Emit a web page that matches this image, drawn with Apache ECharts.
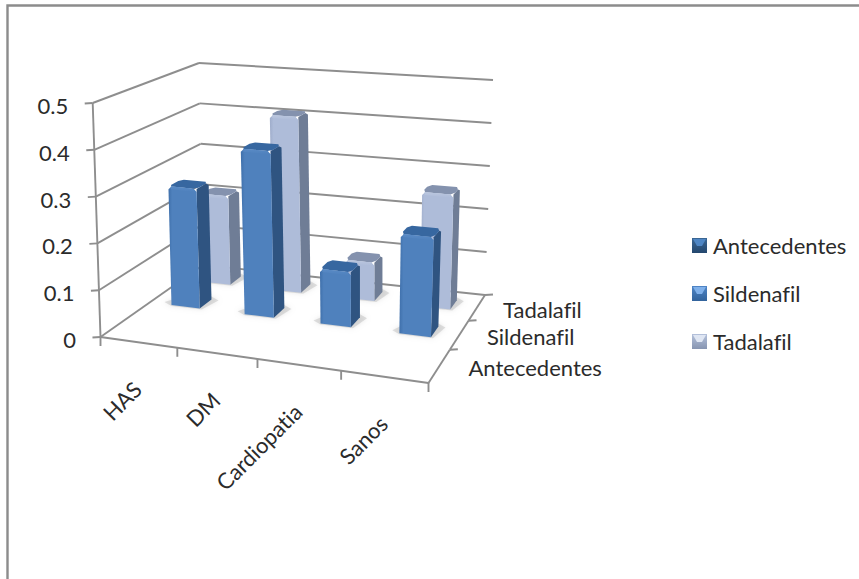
<!DOCTYPE html>
<html>
<head>
<meta charset="utf-8">
<style>
html,body{margin:0;padding:0;background:#fff}
#chart{width:859px;height:579px}
#chart text{font-variant-ligatures:none}
</style>
<script src="https://cdn.jsdelivr.net/npm/echarts@6/dist/echarts.min.js"></script>
</head>
<body>
<div id="chart"></div>
<script>
// Chart data
const categories = ['HAS', 'DM', 'Cardiopatia', 'Sanos'];
const seriesNames = ['Antecedentes', 'Sildenafil', 'Tadalafil'];
const antecedentes = [null, null, null, null];
const sildenafil = [0.27, 0.37, 0.12, 0.215];
const tadalafil = [0.21, 0.41, 0.088, 0.26];
const yTicks = [0, 0.1, 0.2, 0.3, 0.4, 0.5];

// Box corners in the page: floor and top plane, front-left, front-right, back-right, back-left
const FLOOR = [[100.5, 337], [428.5, 383], [485, 295], [203, 265]];
const TOP = [[92.7, 103], [438, 133], [493, 80], [199, 63]];
const FONT = 'Lato';
const FONT_SIZE = 22;
const TEXT = '#2b2b2b';
const LINE = '#8e8e8e';

// Unit square to quadrilateral perspective map
function quadMap(q) {
  const [[x0, y0], [x1, y1], [x2, y2], [x3, y3]] = q;
  const dx1 = x1 - x2, dx2 = x3 - x2, sx = x0 - x1 + x2 - x3;
  const dy1 = y1 - y2, dy2 = y3 - y2, sy = y0 - y1 + y2 - y3;
  const den = dx1 * dy2 - dx2 * dy1;
  const g = (sx * dy2 - dx2 * sy) / den, h = (dx1 * sy - sx * dy1) / den;
  const a = x1 - x0 + g * x1, b = x3 - x0 + h * x3;
  const d = y1 - y0 + g * y1, e = y3 - y0 + h * y3;
  return (u, v) => {
    const w = g * u + h * v + 1;
    return [(a * u + b * v + x0) / w, (d * u + e * v + y0) / w];
  };
}
const floorMap = quadMap(FLOOR);
const topMap = quadMap(TOP);
// u along the categories, h up the value axis, v into the depth; all 0..1
function project(u, h, v) {
  const w = u + 0.04 * u * (1 - u); // eases the foreshortening along the category axis
  const p = floorMap(w, v), q = topMap(w, v);
  return [p[0] + (q[0] - p[0]) * h, p[1] + (q[1] - p[1]) * h];
}
// Axis scales of the hidden grid, read back as unit coordinates
function unit(api, cat, val) {
  const c = api.coord([cat, val]);
  const W = api.getWidth(), H = api.getHeight();
  return { u: c[0] / W, h: 1 - c[1] / H, band: api.size([1, 0])[0] / W };
}
const poly = (points, style, z2) => ({ type: 'polygon', shape: { points }, style, z2: z2 || 0 });
const seg = (a, b, width) => ({
  type: 'line', shape: { x1: a[0], y1: a[1], x2: b[0], y2: b[1] },
  style: { stroke: LINE, lineWidth: width || 1.9 }
});
const label = (x, y, text, extra) => ({
  type: 'text', x, y, rotation: extra && extra.rotation || 0,
  style: Object.assign({ text, fontFamily: FONT, fontSize: FONT_SIZE, fill: TEXT }, extra && extra.style)
});
const vgrad = (c0, c1) => new echarts.graphic.LinearGradient(0, 0, 0, 1, [{ offset: 0, color: c0 }, { offset: 1, color: c1 }]);
const hgrad = (c0, c1) => new echarts.graphic.LinearGradient(0, 0, 1, 0, [{ offset: 0, color: c0 }, { offset: 0.12, color: c1 }, { offset: 1, color: c1 }]);

// Softens the listed corners of a polygon by cutting them back along both edges
function chamfer(points, corners, r) {
  const out = [];
  points.forEach((p, i) => {
    if (!corners.includes(i)) { out.push(p); return; }
    const prev = points[(i + points.length - 1) % points.length];
    const next = points[(i + 1) % points.length];
    const toward = q => {
      const dx = q[0] - p[0], dy = q[1] - p[1], l = Math.hypot(dx, dy) || 1;
      const t = Math.min(r, l / 2) / l;
      return [p[0] + dx * t, p[1] + dy * t];
    };
    out.push(toward(prev), toward(next));
  });
  return out;
}

const PALETTE = {
  Sildenafil: { face: '#4f81bd', rim: '#3f70ab', side: '#2f5481', top: '#3767a0', lip: '#5a8bc6' },
  Tadalafil: { face: '#aebcd9', rim: '#9fadcb', side: '#6f7d96', top: '#8492ae', lip: '#bbc7df' }
};

// One bevelled 3D column standing on the floor
function barItem(name, row) {
  return function (params, api) {
    const cat = api.value(0), val = api.value(1);
    const { u, h, band } = unit(api, cat, val);
    const hw = band * 0.195, v = (row + 0.5) / 3, hd = 0.062;
    const pal = PALETTE[name];
    const u0 = u - hw, u1 = u + hw, v0 = v - hd, v1 = v + hd;
    const fb0 = project(u0, 0, v0), fb1 = project(u1, 0, v0), bb1 = project(u1, 0, v1), bb0 = project(u0, 0, v1);
    const ft0 = project(u0, h, v0), ft1 = project(u1, h, v0), bt1 = project(u1, h, v1), bt0 = project(u0, h, v1);
    const shadow = {
      type: 'polygon',
      shape: { points: [[fb0[0] - 7, fb0[1] - 3], [fb0[0], fb0[1] + 1], [fb1[0] + 2, fb1[1] + 1], [bb1[0] + 7, bb1[1] + 1], [bb1[0], bb1[1] - 3], [bb0[0], bb0[1]]] },
      style: { fill: 'rgba(170,170,170,0.35)', shadowBlur: 5, shadowColor: 'rgba(160,160,160,0.7)' },
      z2: -1
    };
    return {
      type: 'group',
      children: [
        shadow,
        poly(chamfer([fb1, bb1, bt1, ft1], [2], 3), { fill: pal.side }),
        poly(chamfer([ft0, ft1, bt1, bt0], [0, 1, 2, 3], 3), { fill: pal.top }),
        poly(chamfer([fb0, fb1, ft1, ft0], [2, 3], 3), { fill: hgrad(pal.rim, pal.face) }),
        poly([[ft0[0] + 2.5, ft0[1]], [ft1[0] - 2.5, ft1[1]], [ft1[0] - 2.5, ft1[1] + 3], [ft0[0] + 2.5, ft0[1] + 3]], { fill: vgrad(pal.lip, pal.face) })
      ]
    };
  };
}

// Walls: one line per value tick, and the value labels
function gridItem(params, api) {
  const v = api.value(1);
  const { h } = unit(api, 0, v);
  const a = project(0, h, 0), b = project(0, h, 1), c = project(1, h, 1);
  const tail = [a[0] - 8, a[1] + 0.5];
  const txt = label(a[0] - 24.5, a[1] + 2.5, v === 0 ? '0' : v.toFixed(1), {
    style: { textAlign: 'right', textVerticalAlign: 'middle' }
  });
  return { type: 'group', children: [seg(a, b), seg(b, c), seg(a, tail), txt] };
}
// Front floor edge, value-axis spine, ticks and category labels
function catAxisItem(params, api) {
  const i = api.value(0);
  const { u, band } = unit(api, i, 0);
  const t = project(u - band / 2, 0, 0);
  const children = [seg(t, [t[0], t[1] + 9])];
  const nb = project(u, 0, 0);
  children.push(label(nb[0] - 1, nb[1] + 43, categories[i], {
    rotation: Math.PI / 4,
    style: { textAlign: 'right', textVerticalAlign: 'middle' }
  }));
  if (i === categories.length - 1) {
    const o = project(0, 0, 0), e = project(1, 0, 0);
    children.push(seg(o, e), seg(o, project(0, 1, 0)), seg(e, [e[0], e[1] + 9]));
  }
  return { type: 'group', children };
}
// Right floor edge with depth ticks and series labels
function depthItem(params, api) {
  const row = params.dataIndex;
  const a = project(1, 0, row / 3), b = project(1, 0, (row + 1) / 3);
  const m = project(1, 0, (row + 0.5) / 3);
  const children = [seg(a, b), seg(b, [b[0] + 8, b[1] - 0.5])];
  children.push(label(m[0] + 29 - row * 1.5, m[1] + 2, seriesNames[row], {
    style: { textAlign: 'left', textVerticalAlign: 'middle' }
  }));
  return { type: 'group', children };
}

const pair = arr => arr.map((v, i) => [i, v]);
const legendFace = { Antecedentes: ['#3b6795', '#24476e'], Sildenafil: ['#4f85c6', '#32639c'], Tadalafil: ['#b4c1db', '#8795b1'] };
const legendLid = { Antecedentes: '#4f86c4', Sildenafil: '#7fb0ea', Tadalafil: '#dfe6f3' };

const option = {
  animation: false,
  backgroundColor: '#fff',
  grid: { left: 0, top: 0, right: 0, bottom: 0 },
  xAxis: { type: 'category', data: categories, show: false },
  yAxis: { type: 'value', min: 0, max: 0.5, interval: 0.1, show: false },
  legend: {
    orient: 'vertical', left: 692, top: 233.5, padding: 0, itemWidth: 15, itemHeight: 15, itemGap: 24,
    selectedMode: false,
    textStyle: { fontFamily: FONT, fontSize: FONT_SIZE, color: TEXT, lineHeight: 24, padding: [0, 0, 0, 1] },
    data: seriesNames.map(n => ({ name: n, icon: 'rect', itemStyle: { color: vgrad(legendFace[n][0], legendFace[n][1]) } }))
  },
  graphic: [
    { type: 'rect', shape: { x: 7.5, y: 5.5, width: 900, height: 600 }, style: { fill: 'none', stroke: '#8c8c8c', lineWidth: 2.4 }, silent: true, z: 0 }
  ].concat(seriesNames.map((n, i) => ({
    type: 'polygon', z: 20, silent: true,
    shape: { points: [[693, 239 + i * 48], [706, 239 + i * 48], [702, 246 + i * 48], [697, 246 + i * 48]] },
    style: { fill: legendLid[n] }
  }))),
  series: [
    { type: 'custom', name: 'grid', coordinateSystem: 'cartesian2d', data: yTicks.map(t => [0, t]), renderItem: gridItem, z: 1, silent: true },
    { type: 'custom', name: 'cats', coordinateSystem: 'cartesian2d', data: categories.map((c, i) => [i, 0]), renderItem: catAxisItem, z: 1, silent: true },
    { type: 'custom', name: 'depth', coordinateSystem: 'cartesian2d', data: seriesNames.map(() => [0, 0]), renderItem: depthItem, z: 1, silent: true },
    { type: 'custom', name: 'Antecedentes', coordinateSystem: 'cartesian2d', data: pair(antecedentes).filter(d => d[1] != null), renderItem: barItem('Sildenafil', 0), z: 4, itemStyle: { color: '#3b6795' } },
    { type: 'custom', name: 'Sildenafil', coordinateSystem: 'cartesian2d', data: pair(sildenafil), renderItem: barItem('Sildenafil', 1), z: 3, itemStyle: { color: '#4f81bd' } },
    { type: 'custom', name: 'Tadalafil', coordinateSystem: 'cartesian2d', data: pair(tadalafil), renderItem: barItem('Tadalafil', 2), z: 2, itemStyle: { color: '#aebcd9' } }
  ]
};
const chart = echarts.init(document.getElementById('chart'), null, { renderer: 'svg' });
chart.setOption(option);
</script>
</body>
</html>
